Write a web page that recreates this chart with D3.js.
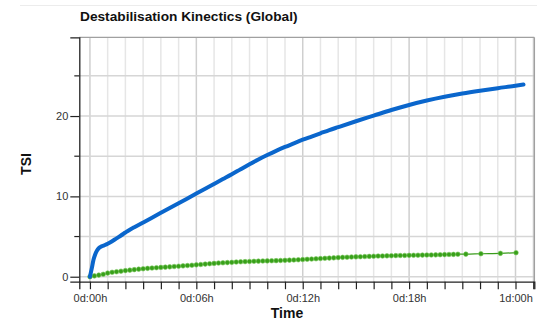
<!DOCTYPE html>
<html><head><meta charset="utf-8">
<script src="https://cdn.jsdelivr.net/npm/d3@7/dist/d3.min.js"></script>
<style>
html,body{margin:0;padding:0;background:#fff;}
svg{display:block;font-family:"Liberation Sans",Arial,sans-serif;}
</style></head>
<body>
<script>
// ---- data ----
const title = "Destabilisation Kinectics (Global)";
const xTitle = "Time";
const yTitle = "TSI";
const xTickHours = [0, 6, 12, 18, 24];
const xTickLabels = ["0d:00h", "0d:06h", "0d:12h", "0d:18h", "1d:00h"];
const yTickValues = [0, 10, 20];
const yMinorValues = [5, 15, 25];

const blueTime = [0,0.1,0.2,0.3,0.4,0.5,0.6,0.8,1.0,1.25,1.5,1.75,2.0,2.25,2.5,3.0,3.5,4.0,4.5,5.0,5.5,6.0,6.5,7.0,7.5,8.0,8.5,9.0,9.5,10.0,10.5,11.0,11.5,12.0,12.5,13.0,13.5,14.0,15.0,16.0,17.0,18.0,19.0,20.0,21.0,22.0,23.0,24.0,24.45];
const blueTSI  = [0,1.0,2.1,2.8,3.25,3.55,3.72,3.9,4.1,4.42,4.78,5.13,5.5,5.85,6.15,6.75,7.35,7.95,8.55,9.15,9.75,10.35,10.95,11.55,12.15,12.75,13.38,14.0,14.6,15.15,15.67,16.15,16.6,17.05,17.45,17.85,18.25,18.62,19.35,20.05,20.75,21.38,21.93,22.4,22.8,23.15,23.47,23.77,23.92];

const greenTime = [0,0.25,0.5,0.75,1,1.25,1.5,1.75,2,2.25,2.5,2.75,3,3.25,3.5,3.75,4,4.25,4.5,4.75,5,5.25,5.5,5.75,6,6.25,6.5,6.75,7,7.25,7.5,7.75,8,8.25,8.5,8.75,9,9.25,9.5,9.75,10,10.25,10.5,10.75,11,11.25,11.5,11.75,12,12.25,12.5,12.75,13,13.25,13.5,13.75,14,14.25,14.5,14.75,15,15.25,15.5,15.75,16,16.25,16.5,16.75,17,17.25,17.5,17.75,18,18.25,18.5,18.75,19,19.25,19.5,19.75,20,20.25,20.5,20.75,21.2,22.05,23.15,24.03];
const greenTSI  = [0,0.1,0.2,0.3,0.45,0.55,0.62,0.69,0.76,0.82,0.88,0.94,0.99,1.04,1.08,1.12,1.16,1.19,1.23,1.27,1.31,1.35,1.39,1.43,1.48,1.52,1.57,1.62,1.66,1.7,1.73,1.76,1.79,1.83,1.86,1.88,1.9,1.92,1.94,1.96,1.97,1.99,2.0,2.02,2.04,2.06,2.09,2.11,2.14,2.17,2.2,2.23,2.26,2.29,2.32,2.35,2.38,2.41,2.43,2.45,2.47,2.49,2.51,2.53,2.55,2.57,2.58,2.6,2.61,2.63,2.64,2.65,2.66,2.67,2.68,2.69,2.7,2.71,2.72,2.74,2.75,2.77,2.78,2.8,2.81,2.86,2.91,2.99];

// ---- layout ----
const W = 537, H = 320;
const L = 79.3, R = 534.3, T = 37.3, B = 281.7;
const svg = d3.select("body").append("svg").attr("width", W).attr("height", H);

const x = d3.scaleLinear().domain([-0.6, 25.06]).range([L, R]);
const y = d3.scaleLinear().domain([-0.62, 29.8]).range([B, T]);

// faint top line
svg.append("line").attr("x1", 20).attr("x2", W).attr("y1", 5.5).attr("y2", 5.5)
  .attr("stroke", "#ececec").attr("stroke-width", 1);

// title
svg.append("text").attr("x", 80).attr("y", 20.5).attr("font-size", 13.7)
  .attr("font-weight", "bold").attr("fill", "#111").text(title);

// grid
const hours = d3.range(0, 26, 1);
svg.append("g").selectAll("line").data(hours).join("line")
  .attr("x1", d => x(d)).attr("x2", d => x(d)).attr("y1", T).attr("y2", B)
  .attr("stroke", d => d % 6 === 0 ? "#cfcfcf" : "#e6e6e6").attr("stroke-width", 1.5);
svg.append("g").selectAll("line").data([0,5,10,15,20,25]).join("line")
  .attr("x1", L).attr("x2", R).attr("y1", d => y(d)).attr("y2", d => y(d))
  .attr("stroke", "#d6d6d6").attr("stroke-width", 1.5);

// frame
svg.append("line").attr("x1", L).attr("x2", R).attr("y1", T).attr("y2", T).attr("stroke", "#a0a0a0").attr("stroke-width", 1.2);
svg.append("line").attr("x1", R).attr("x2", R).attr("y1", T).attr("y2", B).attr("stroke", "#a0a0a0").attr("stroke-width", 1.5);

// axes
const xAxis = d3.axisBottom(x).tickValues(hours).tickSize(7.5)
  .tickFormat(d => { const i = xTickHours.indexOf(d); return i >= 0 ? xTickLabels[i] : ""; });
const gx = svg.append("g").attr("transform", `translate(0,${B})`).call(xAxis);
gx.select(".domain").attr("stroke", "#222").attr("stroke-width", 1.3);
gx.selectAll(".tick line").attr("stroke", "#222").attr("stroke-width", 1.2);
gx.selectAll(".tick text").attr("font-size", 11).attr("fill", "#333").attr("dy", "0.93em")
  .attr("font-family", "'Liberation Sans',Arial,sans-serif");

const yAxis = d3.axisLeft(y).tickValues(yTickValues).tickSize(9).tickPadding(2).tickFormat(d3.format("d"));
const gy = svg.append("g").attr("transform", `translate(${L},0)`).call(yAxis);
gy.select(".domain").attr("stroke", "#222").attr("stroke-width", 1.3);
gy.selectAll(".tick line").attr("stroke", "#222").attr("stroke-width", 1.2);
gy.selectAll(".tick text").attr("font-size", 11).attr("fill", "#333")
  .attr("font-family", "'Liberation Sans',Arial,sans-serif");
svg.append("g").selectAll("line").data(yMinorValues).join("line")
  .attr("x1", L - 5).attr("x2", L).attr("y1", d => y(d)).attr("y2", d => y(d))
  .attr("stroke", "#222").attr("stroke-width", 1.2);

// axis titles
svg.append("text").attr("x", 287).attr("y", 317.5).attr("text-anchor", "middle")
  .attr("font-size", 14).attr("font-weight", "bold").attr("fill", "#111").text(xTitle);
svg.append("text").attr("transform", "translate(31,164) rotate(-90)").attr("text-anchor", "middle")
  .attr("font-size", 14).attr("font-weight", "bold").attr("fill", "#111").text(yTitle);

// series
const line = d3.line().x(d => x(d[0])).y(d => y(d[1])).curve(d3.curveMonotoneX);
const green = greenTime.map((t, i) => [t, greenTSI[i]]);
const blue = blueTime.map((t, i) => [t, blueTSI[i]]);

svg.append("path").datum(green).attr("d", line).attr("fill", "none")
  .attr("stroke", "#3a9c1c").attr("stroke-width", 1.2);
svg.append("g").selectAll("circle").data(green).join("circle")
  .attr("cx", d => x(d[0])).attr("cy", d => y(d[1])).attr("r", 2.3)
  .attr("fill", "#38a01a").attr("stroke", "#7cc860").attr("stroke-width", 0.6);

svg.append("path").datum(blue).attr("d", line).attr("fill", "none")
  .attr("stroke", "#0a66cc").attr("stroke-width", 4)
  .attr("stroke-linejoin", "round").attr("stroke-linecap", "round");
</script>
</body></html>
